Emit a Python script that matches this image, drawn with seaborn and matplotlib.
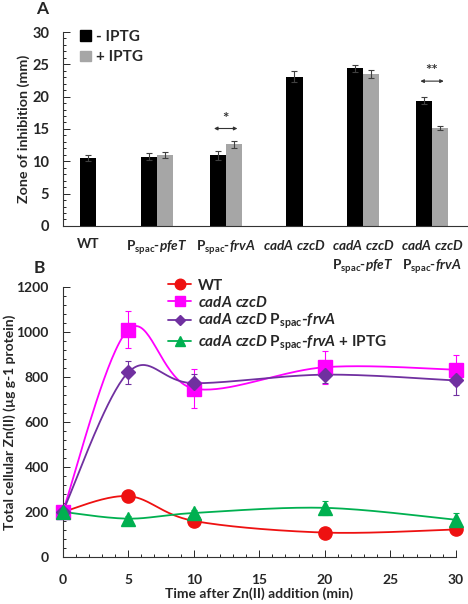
import numpy as np
import pandas as pd
import matplotlib
matplotlib.use("Agg")
import matplotlib.pyplot as plt
from matplotlib.lines import Line2D
from matplotlib.patches import Patch
from matplotlib.ticker import MultipleLocator, AutoMinorLocator
import seaborn as sns

# ---- Panel A data: zone of inhibition (mm)
strains = ["WT", "pfeT", "frvA", "czcD", "czcD_pfeT", "czcD_frvA"]
minus_iptg = [10.5, 10.7, 10.9, 23.1, 24.4, 19.4]
minus_err = [0.5, 0.55, 0.7, 0.9, 0.55, 0.5]
plus_iptg = [np.nan, 11.0, 12.6, np.nan, 23.5, 15.2]
plus_err = [np.nan, 0.5, 0.5, np.nan, 0.55, 0.3]

# ---- Panel B data: total cellular Zn(II)
minutes = [0, 5, 10, 20, 30]
zn_wt = [200, 270, 160, 108, 122]
zn_wt_err = [20, 28, 12, 10, 10]
zn_czcd = [200, 1010, 748, 843, 832]
zn_czcd_err = [25, 82, 85, 73, 66]
zn_frva = [200, 820, 772, 810, 784]
zn_frva_err = [20, 50, 40, 38, 65]
zn_frva_iptg = [200, 170, 195, 218, 165]
zn_frva_iptg_err = [20, 10, 15, 30, 30]

sns.set_style("ticks")
plt.rcParams["font.family"] = ["Lato", "DejaVu Sans"]
plt.rcParams["font.weight"] = "bold"
plt.rcParams["mathtext.fontset"] = "custom"
plt.rcParams["mathtext.rm"] = "Lato:bold"
plt.rcParams["mathtext.bf"] = "Lato:bold"
plt.rcParams["mathtext.it"] = "Lato:bold:italic"
plt.rcParams["mathtext.bfit"] = "Lato:bold:italic"


def gene(s):
    return r"$\mathit{" + s.replace(" ", r"\ ") + "}$"


PSPAC = r"P$_{\mathrm{spac}}$-"
tick_labels = [
    "WT",
    PSPAC + gene("pfeT"),
    PSPAC + gene("frvA"),
    gene("cadA czcD"),
    gene("cadA czcD") + "\n" + PSPAC + gene("pfeT"),
    gene("cadA czcD") + "\n" + PSPAC + gene("frvA"),
]

fig = plt.figure(figsize=(4.68, 6.04), dpi=100)
axA = fig.add_axes([0.135, 0.626, 0.863, 0.321])
axB = fig.add_axes([0.134, 0.078, 0.840, 0.447])

# ---- Panel A: bars placed by group index, single bars centred
half = 0.1165
rows = []
for i, s in enumerate(strains):
    paired = not np.isnan(plus_iptg[i])
    rows.append(dict(pos=i - half if paired else i, val=minus_iptg[i],
                     err=minus_err[i], cond="- IPTG"))
    if paired:
        rows.append(dict(pos=i + half, val=plus_iptg[i], err=plus_err[i],
                         cond="+ IPTG"))
bars = pd.DataFrame(rows)

sns.barplot(data=bars, x="pos", y="val", hue="cond", native_scale=True,
            dodge=False, width=1.0, errorbar=None, linewidth=0,
            palette={"- IPTG": "#000000", "+ IPTG": "#a6a6a6"},
            legend=False, ax=axA)
axA.errorbar(bars["pos"], bars["val"], yerr=bars["err"], fmt="none",
             ecolor="#404040", elinewidth=0.8, capsize=2.5, capthick=0.8)

axA.set_xlim(-0.363, 5.509)
axA.set_ylim(0, 30)
axA.set_xticks(range(len(strains)))
axA.set_xticklabels(tick_labels, fontsize=9.8, fontweight="bold",
                    linespacing=1.35)
axA.tick_params(axis="x", length=0, pad=9)
axA.yaxis.set_major_locator(MultipleLocator(5))
axA.yaxis.set_minor_locator(AutoMinorLocator(5))
axA.tick_params(axis="y", which="major", direction="in", length=5,
                width=0.7, labelsize=10.5, pad=10)
axA.tick_params(axis="y", which="minor", direction="in", length=2.5,
                width=0.7)
axA.set_xlabel("")
axA.set_ylabel("Zone of inhibition (mm)", fontsize=10.3, fontweight="bold",
               labelpad=2)
for sp in ["top", "right"]:
    axA.spines[sp].set_visible(False)
for sp in ["left", "bottom"]:
    axA.spines[sp].set_linewidth(0.8)
    axA.spines[sp].set_color("#333333")

# significance marks
for grp, star, ytxt, yarr in [(2, "*", 15.4, 15.07), (5, "**", 22.9, 22.4)]:
    axA.annotate("", xy=(grp - 0.17, yarr), xytext=(grp + 0.17, yarr),
                 arrowprops=dict(arrowstyle="<|-|>", color="#333333",
                                 lw=0.8, mutation_scale=5,
                                 shrinkA=0, shrinkB=0))
    axA.text(grp, ytxt, star, ha="center", va="bottom", fontsize=11,
             color="#333333")

axA.legend(handles=[Patch(color="#000000", label="- IPTG"),
                    Patch(color="#a6a6a6", label="+ IPTG")],
           loc="upper left", bbox_to_anchor=(0.02, 1.06), frameon=False,
           fontsize=11, handlelength=0.7, handleheight=0.7,
           handletextpad=0.35, labelspacing=0.45, borderaxespad=0.2)
fig.text(0.09, 0.998, "A", fontsize=12.5, fontweight="bold", va="top",
         ha="center")


# ---- Panel B: smoothed lines like a spreadsheet "smoothed line"
def smooth(xs, ys, n=40):
    x = np.asarray(xs, float)
    y = np.asarray(ys, float)
    px = np.concatenate([[x[0]], x, [x[-1]]])
    py = np.concatenate([[y[0]], y, [y[-1]]])
    cx, cy = [], []
    t = np.linspace(0, 1, n)
    for k in range(1, len(px) - 2):
        x0, x1, x2, x3 = px[k - 1:k + 3]
        y0, y1, y2, y3 = py[k - 1:k + 3]
        c1 = (x1 + (x2 - x0) / 6, y1 + (y2 - y0) / 6)
        c2 = (x2 - (x3 - x1) / 6, y2 - (y3 - y1) / 6)
        bx = ((1 - t) ** 3 * x1 + 3 * (1 - t) ** 2 * t * c1[0]
              + 3 * (1 - t) * t ** 2 * c2[0] + t ** 3 * x2)
        by = ((1 - t) ** 3 * y1 + 3 * (1 - t) ** 2 * t * c1[1]
              + 3 * (1 - t) * t ** 2 * c2[1] + t ** 3 * y2)
        cx.extend(bx)
        cy.extend(by)
    return np.array(cx), np.array(cy)


series = [
    ("WT", zn_wt, zn_wt_err, "#ee1111", "o", 9.5),
    ("cadA czcD", zn_czcd, zn_czcd_err, "#ff00ff", "s", 9.5),
    ("cadA czcD frvA", zn_frva, zn_frva_err, "#7030a0", "D", 7),
    ("cadA czcD frvA IPTG", zn_frva_iptg, zn_frva_iptg_err, "#00b050", "^", 9.5),
]
legend_labels = [
    "WT",
    gene("cadA czcD"),
    gene("cadA czcD") + " " + PSPAC + gene("frvA"),
    gene("cadA czcD") + " " + PSPAC + gene("frvA") + " + IPTG",
]

handles = []
for (name, vals, errs, col, mk, ms), lab in zip(series, legend_labels):
    sx, sy = smooth(minutes, vals)
    sns.lineplot(x=sx, y=sy, sort=False, estimator=None, color=col,
                 linewidth=1.3, ax=axB)
    axB.errorbar(minutes, vals, yerr=errs, fmt=mk, color=col, ms=ms,
                 mec=col, ecolor=col, elinewidth=0.8, capsize=2,
                 capthick=0.8, clip_on=False, zorder=3)
    handles.append(Line2D([], [], color=col, marker=mk, ms=ms * 0.8,
                          lw=1.3, label=lab))

axB.set_xlim(0, 30)
axB.set_ylim(0, 1200)
axB.xaxis.set_major_locator(MultipleLocator(5))
axB.xaxis.set_minor_locator(MultipleLocator(1))
axB.yaxis.set_major_locator(MultipleLocator(200))
axB.yaxis.set_minor_locator(AutoMinorLocator(5))
axB.tick_params(which="major", direction="in", length=5, width=0.7,
                labelsize=10)
axB.tick_params(which="minor", direction="in", length=2.5, width=0.7)
axB.tick_params(axis="y", pad=10)
axB.tick_params(axis="x", pad=12)
axB.set_xlabel("Time after Zn(II) addition (min)", fontsize=10,
               fontweight="bold", labelpad=1)
axB.set_ylabel("Total cellular Zn(II) (\u00b5g g-1 protein)", fontsize=10,
               fontweight="bold", labelpad=0)
for sp in ["top", "right"]:
    axB.spines[sp].set_visible(False)
for sp in ["left", "bottom"]:
    axB.spines[sp].set_linewidth(0.8)
    axB.spines[sp].set_color("#333333")

axB.legend(handles=handles, loc="upper left", bbox_to_anchor=(0.245, 1.065),
           frameon=False, fontsize=11, handlelength=1.5, handletextpad=0.45,
           labelspacing=0.15, borderaxespad=0.2)
fig.text(0.085, 0.556, "B", fontsize=12.5, fontweight="bold", va="center",
         ha="center")

fig.savefig("out.png", dpi=100)
